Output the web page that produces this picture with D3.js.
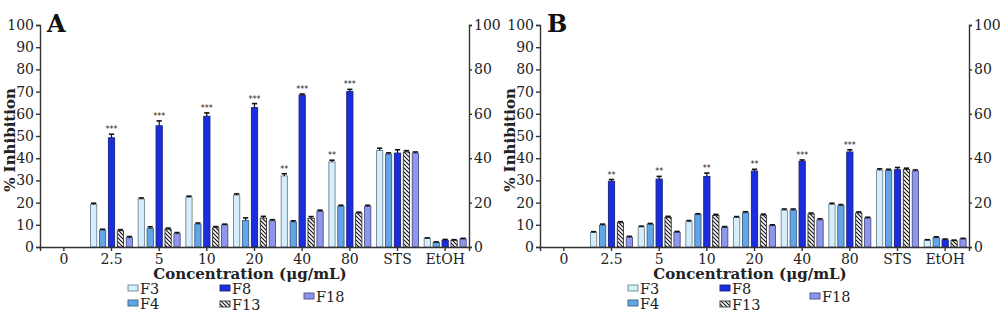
<!DOCTYPE html>
<html><head><meta charset="utf-8">
<script src="https://cdn.jsdelivr.net/npm/d3@7"></script>
<style>body{margin:0;background:#fff}svg{display:block}</style>
</head><body>
<svg id="c" width="1000" height="327"></svg>
<script>
const categories = ["0","2.5","5","10","20","40","80","STS","EtOH"];
const seriesNames = ["F3","F4","F8","F13","F18"];
const leftTicks = [0,10,20,30,40,50,60,70,80,90,100];
const rightTicks = [0,20,40,60,80,100];

// Panel A values
const A_F3  = [0,19.2,21.6,22.4,23.4,32.0,38.3,43.5,3.8];
const A_F4  = [0,7.6,8.3,10.3,11.9,11.3,18.3,41.8,2.0];
const A_F8  = [0,49.2,54.6,58.9,62.8,68.4,70.0,42.3,3.0];
const A_F13 = [0,7.3,8.0,8.7,13.0,12.9,15.2,42.8,3.0];
const A_F18 = [0,4.2,6.0,9.9,11.8,16.0,18.3,42.3,3.6];
const A_F3e  = [0,0.5,0.5,0.5,0.5,1.0,0.8,1.0,0.3];
const A_F4e  = [0,0.4,0.8,0.5,1.2,0.5,0.5,0.6,0.3];
const A_F8e  = [0,1.6,2.2,1.5,1.8,0.5,1.0,1.5,0.4];
const A_F13e = [0,0.5,0.5,0.5,0.8,0.8,0.5,0.6,0.3];
const A_F18e = [0,0.5,0.5,0.4,0.5,0.6,0.5,0.5,0.3];
const A_sig = [["F8","2.5","***"],["F8","5","***"],["F8","10","***"],["F8","20","***"],["F8","40","***"],["F8","80","***"],["F3","40","**"],["F3","80","**"]];

// Panel B values
const B_F3  = [0,6.5,9.0,11.4,13.3,16.6,19.2,34.6,3.0];
const B_F4  = [0,9.8,10.2,14.6,15.4,16.6,18.6,34.5,4.2];
const B_F8  = [0,29.6,30.6,31.8,34.2,38.6,42.8,34.8,3.2];
const B_F13 = [0,10.9,13.3,14.2,14.3,14.8,15.3,34.9,2.8];
const B_F18 = [0,4.4,6.6,8.8,9.6,12.2,13.0,34.2,3.6];
const B_F3e  = [0,0.4,0.4,0.5,0.4,0.5,0.5,0.6,0.3];
const B_F4e  = [0,0.5,0.4,0.4,0.5,0.5,0.5,0.5,0.4];
const B_F8e  = [0,0.8,1.2,1.5,0.8,0.6,1.0,1.0,0.4];
const B_F13e = [0,0.5,0.5,0.5,0.5,0.5,0.5,0.6,0.3];
const B_F18e = [0,0.4,0.4,0.4,0.4,0.5,0.4,0.5,0.3];
const B_sig = [["F8","2.5","**"],["F8","5","**"],["F8","10","**"],["F8","20","**"],["F8","40","***"],["F8","80","***"]];

const fills = {F3:"#d6eefb",F4:"#62a6ea",F8:"#1a2de0",F13:"url(#hatch)",F18:"#8f97ec"};
const strokes = {F3:"#6f8593",F4:"#3f5f85",F8:"#1a237a",F13:"#333",F18:"#4a4f88"};

const svg = d3.select("#c");
const defs = svg.append("defs");
const pat = defs.append("pattern").attr("id","hatch").attr("patternUnits","userSpaceOnUse")
  .attr("width",4).attr("height",4);
pat.append("rect").attr("width",4).attr("height",4).attr("fill","#fff");
pat.append("path").attr("d","M-1,-1 L5,5 M-1,3 L1,5 M3,-1 L5,1").attr("stroke","#111").attr("stroke-width",1.1);

const FONT = "DejaVu Serif";

function panel(ox, label, vals, errs, sig, f18x){
  const g = svg.append("g").attr("transform",`translate(${ox},0)`);
  const x = d3.scaleBand().domain(categories).range([40,469]);
  const xi = d3.scaleBand().domain(seriesNames).range([-21,21]).paddingInner(0.3);
  const y = d3.scaleLinear().domain([0,100]).range([247,25]);

  seriesNames.forEach((s,si)=>{
    const data = categories.map((c,i)=>({c, v:vals[si][i], e:errs[si][i]})).filter(d=>d.v>0);
    const bx = d=> x(d.c)+x.bandwidth()/2 + xi(s);
    g.selectAll(null).data(data).enter().append("rect")
      .attr("x",bx).attr("width",xi.bandwidth())
      .attr("y",d=>y(d.v)).attr("height",d=>y(0)-y(d.v))
      .attr("fill",fills[s]).attr("stroke",strokes[s]).attr("stroke-width",0.9);
    g.selectAll(null).data(data).enter().append("line")
      .attr("x1",d=>bx(d)+xi.bandwidth()/2).attr("x2",d=>bx(d)+xi.bandwidth()/2)
      .attr("y1",d=>y(d.v)).attr("y2",d=>y(d.v+d.e)).attr("stroke","#111").attr("stroke-width",1.2);
    g.selectAll(null).data(data).enter().append("line")
      .attr("x1",d=>bx(d)+0.5).attr("x2",d=>bx(d)+xi.bandwidth()-0.5)
      .attr("y1",d=>y(d.v+d.e)).attr("y2",d=>y(d.v+d.e)).attr("stroke","#111").attr("stroke-width",1.6);
  });

  sig.forEach(([s,c,t])=>{
    const si = seriesNames.indexOf(s), ci = categories.indexOf(c);
    const v = vals[si][ci]+errs[si][ci];
    g.append("text").attr("x",x(c)+x.bandwidth()/2+xi(s)+xi.bandwidth()/2)
      .attr("y",y(v)-2).attr("text-anchor","middle")
      .attr("font-family","DejaVu Sans").attr("font-size",8).attr("fill","#222").text(t);
  });

  const la = g.append("g").attr("transform","translate(40,0)")
    .call(d3.axisLeft(y).tickValues(leftTicks).tickSize(4).tickPadding(2));
  la.selectAll("text").attr("font-family",FONT).attr("font-size",14).attr("fill","#222");
  const ra = g.append("g").attr("transform","translate(469,0)")
    .call(d3.axisRight(y).tickValues(rightTicks).tickSize(3).tickPadding(2));
  ra.selectAll("text").attr("font-family",FONT).attr("font-size",14).attr("fill","#222");
  const xa = g.append("g").attr("transform","translate(0,247)")
    .call(d3.axisBottom(x).tickSize(4).tickPadding(3));
  xa.selectAll("text").attr("font-family",FONT).attr("font-size",14).attr("fill","#222");
  [la,ra,xa].forEach(a=>{a.selectAll("path,line").attr("stroke","#333").attr("stroke-width",1.4);});

  g.append("text").attr("transform","translate(15,140) rotate(-90)").attr("text-anchor","middle")
    .attr("font-family",FONT).attr("font-weight","bold").attr("font-size",15).attr("fill","#222").text("% Inhibition");
  g.append("text").attr("x",250).attr("y",279).attr("text-anchor","middle")
    .attr("font-family",FONT).attr("font-weight","bold").attr("font-size",15).attr("fill","#222").text("Concentration (μg/mL)");
  g.append("text").attr("x",47).attr("y",32).attr("font-family",FONT).attr("font-weight","bold")
    .attr("font-size",24).attr("fill","#111").text(label);

  const leg = [["F3",128,285],["F4",128,300],["F8",220,285],["F13",220,301],["F18",f18x,293]];
  leg.forEach(([s,lx,ly])=>{
    g.append("rect").attr("x",lx).attr("y",ly).attr("width",10).attr("height",6)
      .attr("fill",fills[s]).attr("stroke",strokes[s]).attr("stroke-width",0.9);
    g.append("text").attr("x",lx+12).attr("y",ly+9).attr("font-family",FONT).attr("font-size",14.5)
      .attr("fill","#222").text(s);
  });
}

panel(0,"A",[A_F3,A_F4,A_F8,A_F13,A_F18],[A_F3e,A_F4e,A_F8e,A_F13e,A_F18e],A_sig,304);
panel(500,"B",[B_F3,B_F4,B_F8,B_F13,B_F18],[B_F3e,B_F4e,B_F8e,B_F13e,B_F18e],B_sig,310);
</script>
</body></html>
